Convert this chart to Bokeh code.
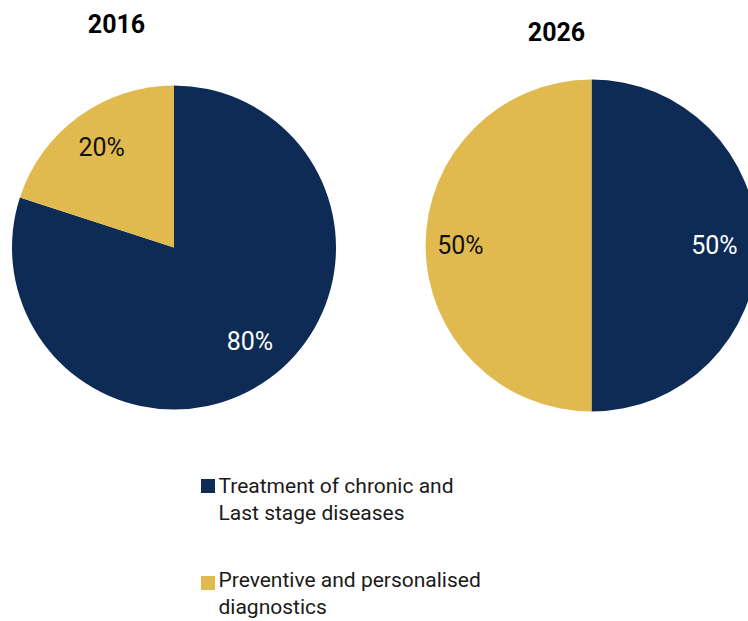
import numpy as np
from bokeh.plotting import figure
from bokeh.models import ColumnDataSource, Range1d
from bokeh.core.properties import value
from bokeh.embed import file_html
from bokeh.resources import INLINE

# ---- data ----
years = ["2016", "2026"]
categories = ["Treatment of chronic and\nLast stage diseases",
              "Preventive and personalised\ndiagnostics"]
shares_2016 = [80, 20]
shares_2026 = [50, 50]

# ---- styles ----
colors = ["#0E2B55", "#E1BA4F"]
label_colors = ["#FFFFFF", "#111111"]
FONT = "Roboto"
W, H = 748, 621

pie_centers = [(173.5, 374.0), (591.0, 376.0)]
pie_radius = [162.0, 166.0]
label_frac = [[0.745, 0.76], [0.74, 0.79]]
label_rot = [[3.0, 0.0], [0.0, 0.0]]   # degrees nudge of label angle
title_pos = [(116.0, 598.0), (556.0, 590.5)]

p = figure(width=W, height=H, output_backend="svg", toolbar_location=None,
           x_range=Range1d(0, W), y_range=Range1d(0, H), min_border=0,
           outline_line_color=None, tools="")
p.xaxis.visible = False
p.yaxis.visible = False
p.grid.visible = False
p.background_fill_color = "white"
p.border_fill_color = "white"

all_shares = [shares_2016, shares_2026]
for i, shares in enumerate(all_shares):
    vals = np.array(shares, dtype=float)
    frac = vals / vals.sum()
    cum = np.concatenate([[0.0], np.cumsum(frac)])
    start = np.pi / 2 - cum[:-1] * 2 * np.pi
    end = np.pi / 2 - cum[1:] * 2 * np.pi
    cx, cy = pie_centers[i]
    r = pie_radius[i]
    src = ColumnDataSource(dict(
        x=[cx] * len(vals), y=[cy] * len(vals),
        start=start, end=end, color=colors[:len(vals)]))
    p.wedge(x="x", y="y", radius=r, start_angle="start", end_angle="end",
            direction="clock", fill_color="color", line_color=None, source=src)
    mid = (start + end) / 2 + np.radians(label_rot[i])
    lf = np.array(label_frac[i])
    lx = cx + lf * r * np.cos(mid)
    ly = cy + lf * r * np.sin(mid)
    lsrc = ColumnDataSource(dict(x=lx, y=ly,
                                 t=[f"{int(v)}%" for v in vals],
                                 c=label_colors[:len(vals)]))
    p.text(x="x", y="y", text="t", text_color="c", source=lsrc,
           text_font=value(FONT), text_font_size="25px",
           text_align="center", text_baseline="middle")
    tx, ty = title_pos[i]
    p.text(x=[tx], y=[ty], text=[years[i]], text_font=value(FONT),
           text_font_style="bold", text_font_size="25px", text_color="#000000",
           text_align="center", text_baseline="middle")

# ---- legend ----
leg_sq = [(207.5, 135.5), (207.5, 38.5)]
leg_text_y = [136.0, 42.0]
line_gap = 27.0
for k, cat in enumerate(categories):
    sx, sy = leg_sq[k]
    p.rect(x=[sx], y=[sy], width=14, height=14, fill_color=colors[k],
           line_color=None)
    lines = cat.split("\n")
    p.text(x=[218.0] * len(lines),
           y=[leg_text_y[k] - j * line_gap for j in range(len(lines))],
           text=lines, text_font=value(FONT), text_font_size="21px",
           text_color="#1A1A1A", text_align="left",
           text_baseline="middle")

open("out.html", "w").write(file_html(p, INLINE))
